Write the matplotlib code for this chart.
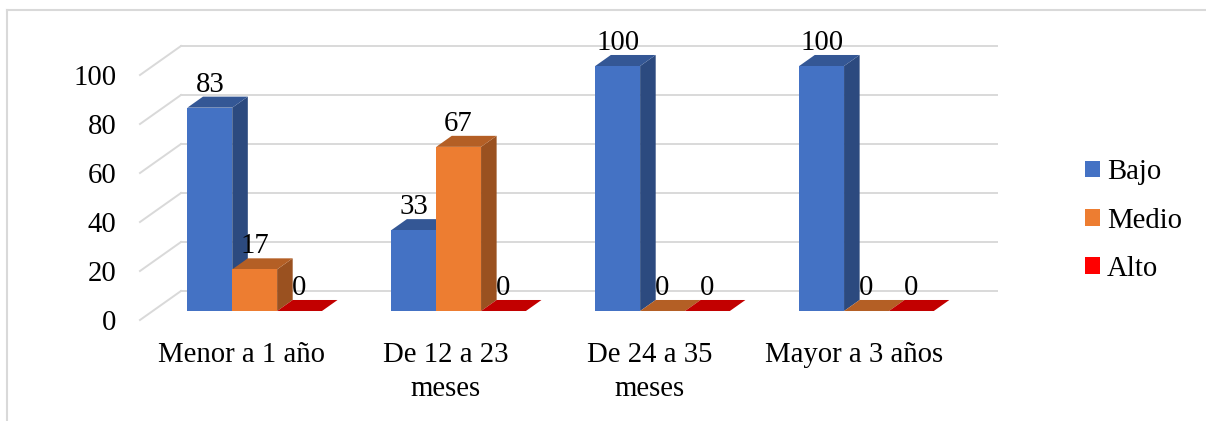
import matplotlib
matplotlib.use('Agg')
import matplotlib.pyplot as plt
from matplotlib.patches import Polygon, Patch, Rectangle
from matplotlib.colors import to_rgb

plt.rcParams['font.family'] = 'Liberation Serif'

# Datos por grupo de edad
categorias = ['Menor a 1 año', 'De 12 a 23\nmeses', 'De 24 a 35\nmeses', 'Mayor a 3 años']
series = ['Bajo', 'Medio', 'Alto']
bajo = [83, 33, 100, 100]
medio = [17, 67, 0, 0]
alto = [0, 0, 0, 0]
colores = ['#4472C4', '#ED7D31', '#FF0000']

valores = [bajo, medio, alto]

# perspectiva: desplazamiento de la profundidad completa (en unidades de datos)
DX = 0.201
DY = 11.84
prof_ini = 0.31      # fraccion de profundidad donde empieza la barra
prof_barra = 0.38    # profundidad de la barra
ancho = 0.22
fs = 20.7
gris = '#D9D9D9'


def sombra(color, f):
    r, g, b = to_rgb(color)
    return (r * f, g * f, b * f)


fig = plt.figure(figsize=(12.06, 4.21), dpi=100)
ax = fig.add_axes([140 / 1206, 101 / 421, 815.75 / 1206, 245 / 421])
ax.set_xlim(0, len(categorias))
ax.set_ylim(0, 100)
for s in ax.spines.values():
    s.set_visible(False)

# paredes: lineas de cuadricula en el fondo y a la izquierda
for v in range(0, 101, 20):
    ax.plot([0, DX], [v, v + DY], color=gris, lw=1.4, zorder=1, clip_on=False)
    ax.plot([DX, len(categorias) + DX], [v + DY, v + DY], color=gris, lw=1.4,
            zorder=1, clip_on=False)

ax.set_yticks(range(0, 101, 20))
ax.set_yticklabels([str(v) for v in range(0, 101, 20)], fontsize=fs)
ax.set_xticks([i + 0.5 for i in range(len(categorias))])
ax.set_xticklabels(categorias, fontsize=fs, linespacing=1.4)
ax.tick_params(axis='y', length=0, pad=17)
ax.tick_params(axis='x', length=0, pad=16)

ox = prof_ini * DX
oy = prof_ini * DY
px = prof_barra * DX
py = prof_barra * DY
margen = (1 - ancho * len(series)) / 2

z = 3
for i in range(len(categorias)):
    for j in range(len(series)):
        v = valores[j][i]
        c = colores[j]
        x0 = i + margen + j * ancho + ox
        x1 = x0 + ancho
        y0 = oy
        y1 = oy + v
        # cara lateral
        if v > 0:
            ax.add_patch(Polygon([(x1, y0), (x1 + px, y0 + py), (x1 + px, y1 + py), (x1, y1)],
                                 closed=True, fc=sombra(c, 0.65), ec='none', zorder=z,
                                 clip_on=False))
        # cara superior
        ax.add_patch(Polygon([(x0, y1), (x1, y1), (x1 + px, y1 + py), (x0 + px, y1 + py)],
                             closed=True, fc=sombra(c, 0.76), ec='none', zorder=z,
                             clip_on=False))
        # cara frontal
        if v > 0:
            ax.add_patch(Rectangle((x0, y0), ancho, v, fc=c, ec='none', zorder=z,
                                   clip_on=False))
        ax.text((x0 + x1) / 2, y1 + 6.5, str(v), ha='center', va='baseline',
                fontsize=fs, zorder=10)
        z += 1

# leyenda
handles = [Patch(fc=c, ec='none') for c in colores]
fig.legend(handles, series, loc='center left', bbox_to_anchor=(1085 / 1206, 0.476),
           frameon=False, fontsize=fs, handlelength=0.52, handleheight=0.52,
           handletextpad=0.25, labelspacing=0.78, borderpad=0, borderaxespad=0)

# borde del area del grafico
fig.add_artist(plt.Line2D([7 / 1206, 1.0], [1 - 10 / 421, 1 - 10 / 421],
                          color=gris, lw=1.5, transform=fig.transFigure))
fig.add_artist(plt.Line2D([7 / 1206, 7 / 1206], [0, 1 - 10 / 421],
                          color=gris, lw=1.5, transform=fig.transFigure))

fig.savefig('out.png', dpi=100)
